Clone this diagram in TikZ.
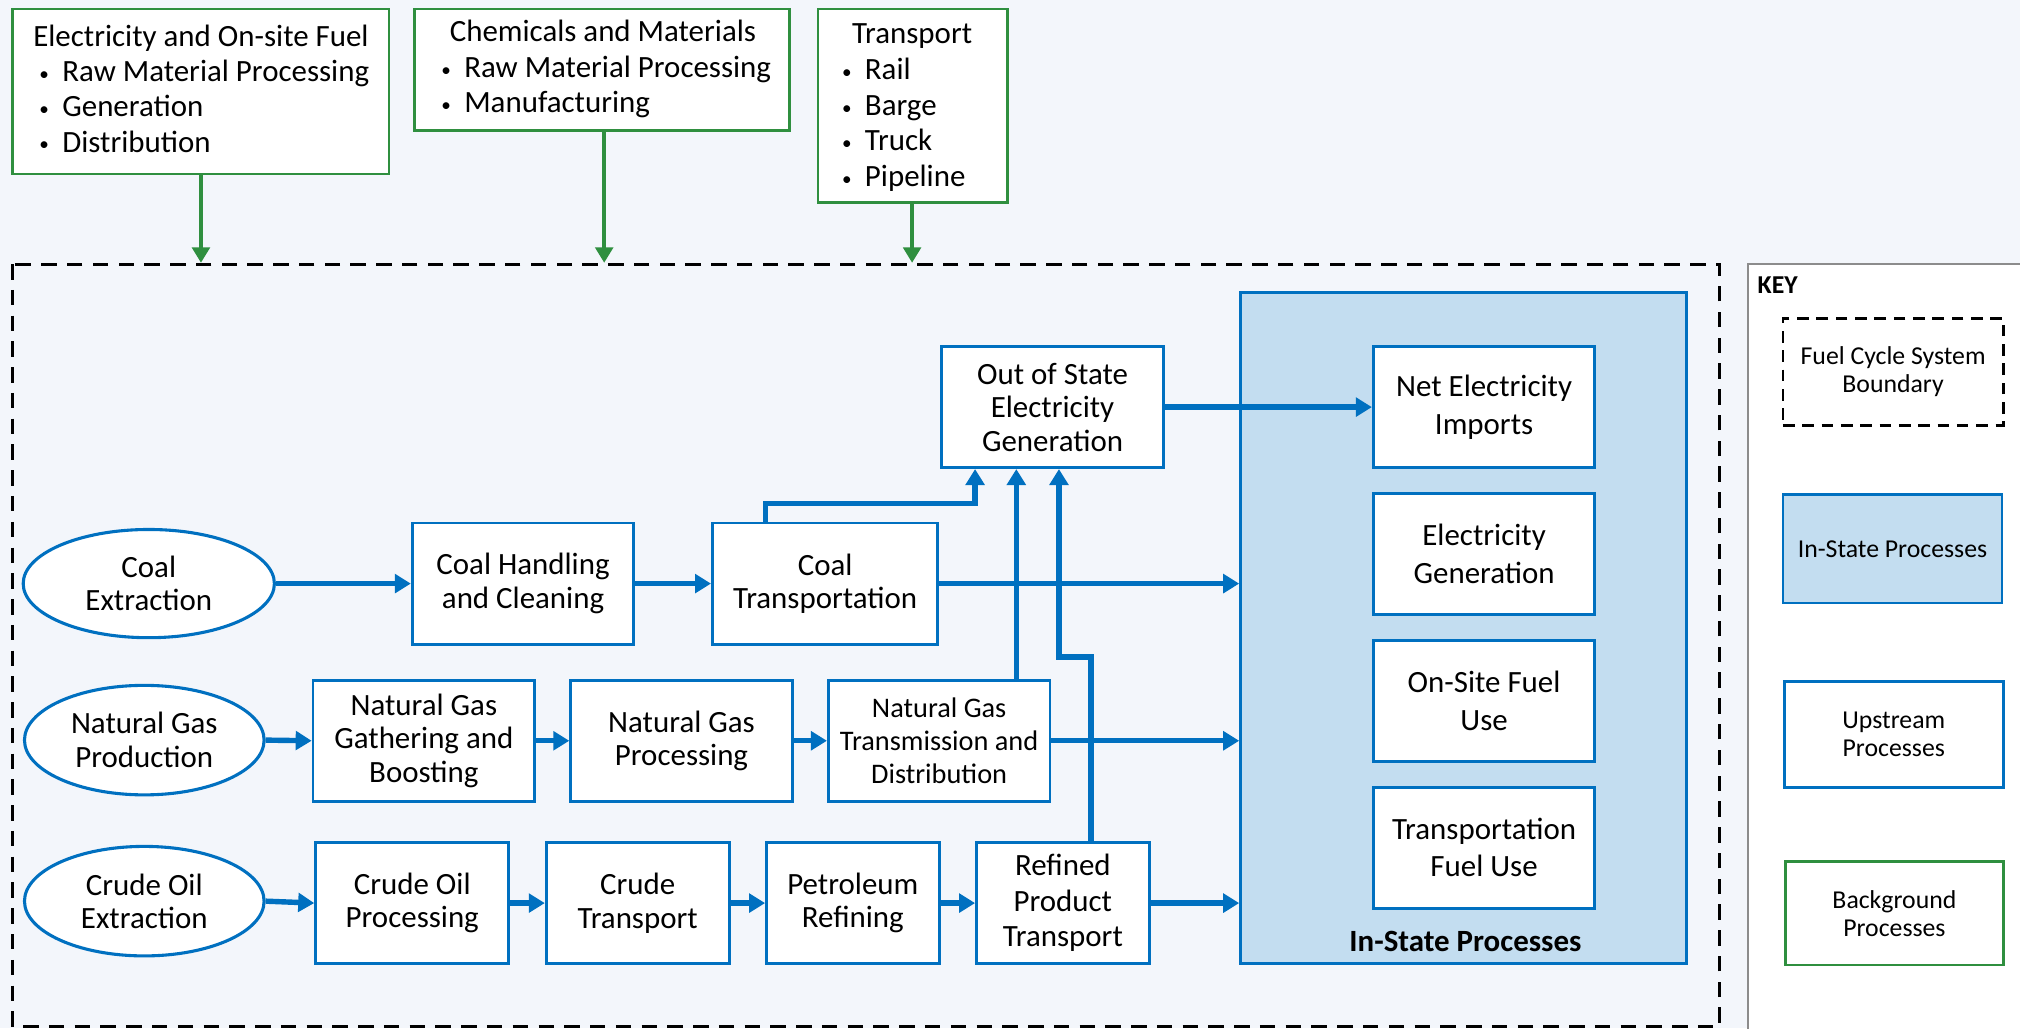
\documentclass[tikz,border=0pt]{standalone}
\usepackage{fontspec}
\setmainfont{Carlito}
\usetikzlibrary{arrows.meta,calc,shapes.geometric}
\definecolor{bgc}{HTML}{F3F6FB}
\definecolor{bl}{HTML}{0070C0}
\definecolor{insfill}{HTML}{C3DDF0}
\definecolor{gr}{HTML}{2F8F3F}
\definecolor{keygray}{HTML}{8C8C8C}
\newcommand\mybul{\makebox[9.5pt][l]{\hspace*{0.6pt}\raisebox{0.4pt}{\scalebox{0.62}{\textbullet}}}}
\tikzset{
  proc/.style={draw=bl, line width=1.1pt, fill=white, align=center, inner sep=1pt,
    font=\fontsize{12}{13}\selectfont, minimum height=47pt},
  src/.style={ellipse, draw=bl, line width=1.2pt, fill=white, align=center, inner sep=0pt,
    font=\fontsize{12}{13}\selectfont},
  instbox/.style={proc, font=\fontsize{12}{14.5}\selectfont, minimum width=86pt},
  gbox/.style={draw=gr, line width=1.1pt, fill=white},
  gtext/.style={font=\fontsize{12}{13.75}\selectfont, align=left, inner sep=0pt},
  flow/.style={draw=bl, line width=2.1pt, -{Triangle[length=6.2pt,width=7.2pt]}},
  gflow/.style={draw=gr, line width=1.6pt, -{Triangle[length=6pt,width=6.8pt]}},
  keytext/.style={font=\fontsize{10}{11}\selectfont, align=center},
}
\begin{document}
\begin{tikzpicture}[x=0.5pt,y=-0.5pt]
\path[fill=bgc] (0,0) rectangle (1568,798);
\useasboundingbox (0,0) rectangle (1568,798);

% system boundary
\draw[black, line width=1.2pt, dash pattern=on 6pt off 4pt] (10,205) rectangle (1335,797);

% key
\draw[keygray, fill=white, line width=0.8pt] (1357,205) rectangle (1572,802);
\node[anchor=west, font=\bfseries\fontsize{10}{11}\selectfont, inner sep=0pt] (keyt) at (1364,221) {KEY};
\node[keytext, draw=black, line width=1.1pt, dash pattern=on 4.5pt off 3pt, minimum width=85.5pt, minimum height=41.5pt] (k1) at (1469.5,288.5) {Fuel Cycle System\\Boundary};
\node[keytext, draw=bl, fill=insfill, line width=1.1pt, minimum width=85pt, minimum height=42pt] (k2) at (1469,426) {In-State Processes};
\node[keytext, draw=bl, fill=white, line width=1.1pt, minimum width=85pt, minimum height=41pt] (k3) at (1470,570) {Upstream\\Processes};
\node[keytext, draw=gr, fill=white, line width=1.1pt, minimum width=84.5pt, minimum height=40pt] (k4) at (1470.5,709) {Background\\Processes};

% background boxes
\node[gbox, minimum width=146pt, minimum height=64pt] (g1) at (156,71) {};
\node[gtext, anchor=base] (g1h) at (156,36) {Electricity and On-site Fuel};
\node[gtext, anchor=base west] (g1a) at (29,63) {\mybul Raw Material Processing};
\node[gtext, anchor=base west] (g1b) at (29,90.5) {\mybul Generation};
\node[gtext, anchor=base west] (g1c) at (29,118) {\mybul Distribution};

\node[gbox, minimum width=145.5pt, minimum height=47pt] (g2) at (467.5,54) {};
\node[gtext, anchor=base] (g2h) at (468,32) {Chemicals and Materials};
\node[gtext, anchor=base west] (g2a) at (341,60) {\mybul Raw Material Processing};
\node[gtext, anchor=base west] (g2b) at (341,87.5) {\mybul Manufacturing};

\node[gbox, minimum width=73.5pt, minimum height=75pt] (g3) at (708.5,82) {};
\node[gtext, anchor=base] (g3h) at (708,34) {Transport};
\node[gtext, anchor=base west] (g3a) at (652,62) {\mybul Rail};
\node[gtext, anchor=base west] (g3b) at (652,89.5) {\mybul Barge};
\node[gtext, anchor=base west] (g3c) at (652,117) {\mybul Truck};
\node[gtext, anchor=base west] (g3d) at (652,144.5) {\mybul Pipeline};

\coordinate (t1) at (156,204);
\coordinate (t2) at (469,204);
\coordinate (t3) at (708,204);
\draw[gflow] (g1.south -| t1) -- (t1);
\draw[gflow] (g2.south -| t2) -- (t2);
\draw[gflow] (g3.south -| t3) -- (t3);

% in-state
\node[draw=bl, fill=insfill, line width=1.1pt, minimum width=173pt, minimum height=260.5pt] (ins) at (1136,487.5) {};
\node[font=\bfseries\fontsize{12}{13}\selectfont, inner sep=0pt] (inslab) at (1137.5,731) {In-State Processes};
\node[instbox] (nei) at (1152,316) {Net Electricity\\Imports};
\node[instbox] (eg) at (1152,430) {Electricity\\Generation};
\node[instbox] (osf) at (1152,544) {On-Site Fuel\\Use};
\node[instbox] (tfu) at (1152,658) {Transportation\\Fuel Use};

% out of state
\node[proc, minimum width=86pt] (oos) at (817,316) {Out of State\\Electricity\\Generation};

% coal row
\node[src, minimum width=97.5pt, minimum height=42pt] (cex) at (115.5,453) {Coal\\Extraction};
\node[proc, minimum width=86pt] (chc) at (406,453) {Coal Handling\\and Cleaning};
\node[proc, minimum width=87.5pt] (ctr) at (640.5,453) {Coal\\Transportation};

% gas row
\node[src, minimum width=93pt, minimum height=42.5pt] (ngp) at (112,574.5) {Natural Gas\\Production};
\node[proc, minimum width=86pt] (ngg) at (329,575) {Natural Gas\\Gathering and\\Boosting};
\node[proc, minimum width=86pt] (ngpr) at (529,575) {Natural Gas\\Processing};
\node[proc, minimum width=86pt, font=\fontsize{11}{12.75}\selectfont] (ngtd) at (729,575) {Natural Gas\\Transmission and\\Distribution};

% oil row
\node[src, minimum width=93pt, minimum height=42.5pt] (coe) at (112,699.5) {Crude Oil\\Extraction};
\node[proc, minimum width=75pt] (cop) at (320,701) {Crude Oil\\Processing};
\node[proc, minimum width=71pt] (crt) at (495,701) {Crude\\Transport};
\node[proc, minimum width=67pt] (prf) at (662,701) {Petroleum\\Refining};
\node[proc, minimum width=67pt, font=\fontsize{12}{13.75}\selectfont] (rpt) at (825,701) {Refined\\Product\\Transport};

% flows
\draw[flow] (cex.east) -- (chc.west);
\draw[flow] (chc.east) -- (ctr.west);
\draw[flow] (ctr.east) -- (ctr.east -| ins.west);
\draw[flow] (ngp.east) -- (ngg.west);
\draw[flow] (ngg.east) -- (ngpr.west);
\draw[flow] (ngpr.east) -- (ngtd.west);
\draw[flow] (ngtd.east) -- (ngtd.east -| ins.west);
\draw[flow] (coe.east) -- (cop.west);
\draw[flow] (cop.east) -- (crt.west);
\draw[flow] (crt.east) -- (prf.west);
\draw[flow] (prf.east) -- (rpt.west);
\draw[flow] (rpt.east) -- (rpt.east -| ins.west);
\draw[flow] (oos.east) -- (nei.west);

\coordinate (jc) at (594,391);
\coordinate (jr) at (822,510);
\draw[flow] (jc |- ctr.north) -- (jc) -| ([xshift=13.5pt]oos.south west);
\draw[flow] ([xshift=73.5pt]ngtd.north west) -- ([xshift=29.5pt]oos.south west);
\draw[flow] ([xshift=45pt]rpt.north west) |- (jr) -- (jr |- oos.south);
\end{tikzpicture}
\end{document}
